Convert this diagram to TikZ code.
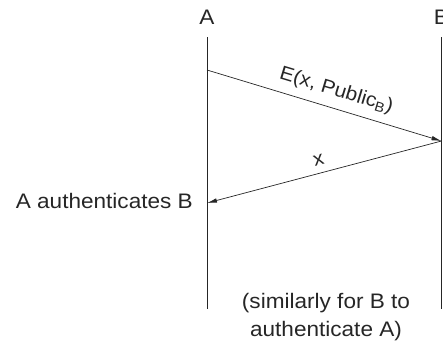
\documentclass[tikz,border=0pt]{standalone}
\usepackage{fontspec}
\setmainfont{Liberation Sans}[FakeStretch=1.075]
\usetikzlibrary{arrows.meta}
\tikzset{
  life/.style={draw=black!85, line width=0.8pt},
  msg/.style={draw=black!85, line width=0.7pt, -{Latex[length=10pt,width=4.5pt]}},
  lbl/.style={font=\fontsize{21}{28}\selectfont, inner sep=0pt, text=black!85},
  msglbl/.style={lbl, font=\fontsize{19.5}{24}\selectfont},
}
\begin{document}
\begin{tikzpicture}[x=1pt,y=-1pt]
\useasboundingbox (0,0) rectangle (443,341);
% lifelines
\coordinate (atop) at (207,37);
\coordinate (abot) at (207,309);
\coordinate (btop) at (441.5,37);
\coordinate (bbot) at (441.5,309);
\draw[life] (atop) -- (abot);
\draw[life] (btop) -- (bbot);
% headers
\node[lbl] (A) at (207,17) {A};
\node[lbl] (B) at (441.5,17) {B};
% messages
\coordinate (a1) at (207,70);
\coordinate (b1) at (441.5,141);
\coordinate (a2) at (207,203);
\draw[msg] (a1) -- (b1) node[msglbl, pos=0.53, above=8pt, sloped] (m1) {E(x, Public\textsubscript{B})};
\draw[msg] (b1) -- (a2) node[msglbl, pos=0.51, above=7pt, sloped] (m2) {x};
% notes
\node[lbl, anchor=east] (auth) at (193,201) {A authenticates B};
\node[lbl, align=center, anchor=north] (sim) at (326,293) {(similarly for B to\\authenticate A)};
\end{tikzpicture}
\end{document}
